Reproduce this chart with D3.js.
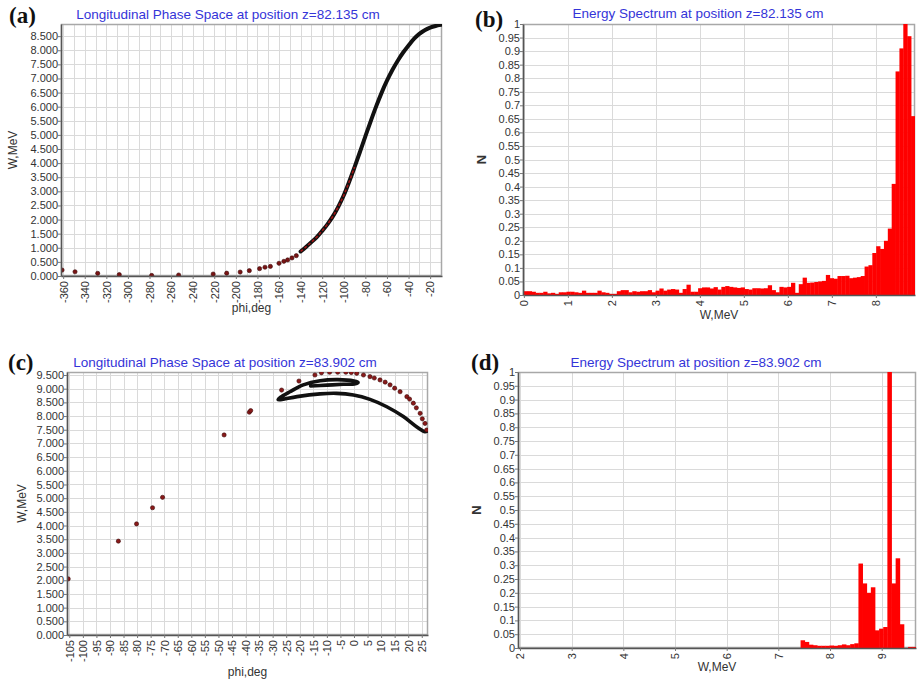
<!DOCTYPE html>
<html><head><meta charset="utf-8">
<script src="https://cdn.jsdelivr.net/npm/d3@7"></script>
<style>
body{margin:0;background:#fff}
svg{display:block}
</style>
</head><body>
<svg id="chart" width="917" height="681"></svg>
<script>
// ---------------- DATA ----------------
// (a) Longitudinal phase space, z = 82.135 cm
const aTitle = "Longitudinal Phase Space at position z=82.135 cm";
const aDotsPhi = [-361,-349,-328,-308,-278,-253,-221,-208.5,-196,-187.5,-178,-173,-168,-160,-155.5,-152,-148,-144];
const aDotsW   = [0.21,0.15,0.095,0.05,0.02,0.035,0.07,0.10,0.14,0.19,0.26,0.31,0.34,0.45,0.52,0.57,0.64,0.72];
const aCurvePhi = [-140,-135,-130,-125,-120,-115,-110,-105,-100,-95,-90,-85,-80,-75,-70,-65,-60,-55,-50,-45,-40,-35,-30,-25,-20,-15,-10];
const aCurveW   = [0.87,1.03,1.2,1.38,1.6,1.84,2.12,2.46,2.86,3.34,3.86,4.4,4.95,5.49,6.01,6.49,6.92,7.3,7.63,7.92,8.17,8.4,8.58,8.71,8.8,8.86,8.9];
const aXTicks = [-360,-340,-320,-300,-280,-260,-240,-220,-200,-180,-160,-140,-120,-100,-80,-60,-40,-20];
const aYTicks = [0,0.5,1,1.5,2,2.5,3,3.5,4,4.5,5,5.5,6,6.5,7,7.5,8,8.5];

// (b) Energy spectrum, z = 82.135 cm  (bins of 0.088 MeV starting at 0)
const bTitle = "Energy Spectrum at position z=82.135 cm";
const bBinStart = 0, bBinWidth = 0.088;
const bCounts = [
 0.014,0.014,0.012,0.008,0.008,0.012,0.006,0.008,0.004,0.010,
 0.010,0.012,0.012,0.010,0.008,0.016,0.008,0.008,0.008,0.016,
 0.010,0.008,0.004,0.004,0.014,0.018,0.018,0.010,0.014,0.012,
 0.014,0.014,0.018,0.010,0.016,0.024,0.016,0.020,0.022,0.020,
 0.008,0.022,0.038,0.012,0.012,0.025,0.028,0.028,0.024,0.029,
 0.020,0.030,0.033,0.030,0.028,0.026,0.028,0.022,0.020,0.025,
 0.025,0.024,0.025,0.036,0.018,0.010,0.030,0.028,0.030,0.045,
 0.008,0.040,0.064,0.045,0.046,0.048,0.050,0.052,0.074,0.062,
 0.060,0.070,0.070,0.071,0.062,0.064,0.066,0.070,0.105,0.110,
 0.155,0.180,0.170,0.200,0.245,0.410,0.825,0.910,1.000,0.955,0.660];
const bXTicks = [0,1,2,3,4,5,6,7,8];
const nYTicks = [0,0.05,0.1,0.15,0.2,0.25,0.3,0.35,0.4,0.45,0.5,0.55,0.6,0.65,0.7,0.75,0.8,0.85,0.9,0.95,1];

// (c) Longitudinal phase space, z = 83.902 cm
const cTitle = "Longitudinal Phase Space at position z=83.902 cm";
const cDotsPhi = [-105.4,-86.9,-80.2,-74.3,-70.6,-47.9,-38.6,-38.1,-26.7,-20.3,-14.4,-12,-9,-6,-3,-1,1,3.5,5.9,7.5,9.6,11.5,13.3,15,17,19.5,20.5,21.9,23,24.4,25.2,26.2,26.8];
const cDotsW   = [2.05,3.43,4.06,4.65,5.03,7.31,8.14,8.2,8.95,9.28,9.5,9.58,9.6,9.6,9.6,9.59,9.56,9.5,9.44,9.39,9.32,9.24,9.14,9.02,8.89,8.71,8.62,8.47,8.3,8.1,7.9,7.73,7.49];
const cLoopPhi = [-16,-10,-4,0.5,1.5,0,-6,-12.5,-18.7,-23.6,-27.2,-28,-27,-21,-12.5,-6.4,-0.2,5.9,12.1,18.2,23.2,26.2,27.2];
const cLoopW   = [9.1,9.13,9.16,9.18,9.23,9.28,9.33,9.29,9.14,8.89,8.68,8.6,8.6,8.71,8.81,8.83,8.77,8.61,8.34,7.98,7.6,7.43,7.46];
const cXTicks = [-105,-100,-95,-90,-85,-80,-75,-70,-65,-60,-55,-50,-45,-40,-35,-30,-25,-20,-15,-10,-5,0,5,10,15,20,25];
const cYTicks = [0,0.5,1,1.5,2,2.5,3,3.5,4,4.5,5,5.5,6,6.5,7,7.5,8,8.5,9,9.5];

// (d) Energy spectrum, z = 83.902 cm  (bins of 0.08 MeV starting at 7.43)
const dTitle = "Energy Spectrum at position z=83.902 cm";
const dBinStart = 7.43, dBinWidth = 0.08;
const dCounts = [0.028,0.022,0.012,0.010,0.008,0.008,0.008,0.009,0.008,0.010,0.013,0.010,0.014,0.017,
 0.306,0.234,0.200,0.220,0.064,0.070,0.076,1.000,0.234,0.325,0.086,0,0.004,0.004];
const dXTicks = [2,3,4,5,6,7,8,9];

// ---------------- DRAWING ----------------
const SANS = "Arial, 'Liberation Sans', sans-serif";
const SERIF = "'Liberation Serif', 'DejaVu Serif', serif";
const svg = d3.select("#chart");
const defs = svg.append("defs");
const fmt3 = d3.format(".3f");

function panel(o) {
  const x = d3.scaleLinear().domain(o.xDomain).range([o.l, o.r]);
  const y = d3.scaleLinear().domain(o.yDomain).range([o.b, o.t]);
  const g = svg.append("g");
  defs.append("clipPath").attr("id", "clip-" + o.name)
    .append("rect").attr("x", o.l).attr("y", o.t).attr("width", o.r - o.l).attr("height", o.b - o.t);
  const px = v => Math.round(v) + 0.5;
  g.append("g").selectAll("line").data(o.xGrid).join("line")
    .attr("x1", d => px(x(d))).attr("x2", d => px(x(d))).attr("y1", o.t).attr("y2", o.b)
    .attr("stroke", "#dadada").attr("stroke-width", 1);
  g.append("g").selectAll("line").data(o.yGrid).join("line")
    .attr("y1", d => px(y(d))).attr("y2", d => px(y(d))).attr("x1", o.l).attr("x2", o.r)
    .attr("stroke", "#dadada").attr("stroke-width", 1);
  g.append("rect").attr("x", o.l + 0.5).attr("y", o.t + 0.5).attr("width", o.r - o.l - 1).attr("height", o.b - o.t - 1)
    .attr("fill", "none").attr("stroke", "#a8a8a8").attr("stroke-width", 1.5);

  const plot = g.append("g").attr("clip-path", `url(#clip-${o.name})`);

  const xa = g.append("g").attr("transform", `translate(0,${o.b})`)
    .call(d3.axisBottom(x).tickValues(o.xTicks).tickFormat(o.xFmt).tickSize(3).tickSizeOuter(0));
  xa.attr("font-family", SANS);
  xa.select(".domain").attr("stroke", "#555").attr("stroke-width", 1.5);
  xa.selectAll(".tick line").attr("stroke", "#777");
  xa.selectAll(".tick text").attr("transform", "rotate(-90)").attr("text-anchor", "end")
    .attr("x", -5).attr("y", 0).attr("dy", "0.35em")
    .attr("font-size", 11).attr("fill", "#333");

  const ya = g.append("g").attr("transform", `translate(${o.l},0)`)
    .call(d3.axisLeft(y).tickValues(o.yTicks).tickFormat(o.yFmt).tickSize(3).tickSizeOuter(0));
  ya.attr("font-family", SANS);
  ya.select(".domain").attr("stroke", "#555").attr("stroke-width", 1.5);
  ya.selectAll(".tick line").attr("stroke", "#777");
  ya.selectAll(".tick text").attr("x", -3).attr("font-size", 11).attr("fill", "#333");

  // title
  g.append("text").attr("x", o.titleX).attr("y", o.titleY).attr("text-anchor", "middle")
    .attr("font-family", SANS).attr("font-size", 13.5).attr("fill", "#3434d8").text(o.title);
  // panel letter
  g.append("text").attr("x", o.letterX).attr("y", o.letterY)
    .attr("font-family", SERIF).attr("font-weight", "bold")
    .attr("font-size", 23).attr("fill", "#111").text(o.letter);
  // axis titles
  g.append("text").attr("x", (o.l + o.r) / 2).attr("y", o.xLabelY).attr("text-anchor", "middle")
    .attr("font-family", SANS).attr("font-size", 12).attr("fill", "#333").text(o.xLabel);
  g.append("text").attr("transform", `translate(${o.yLabelX},${(o.t + o.b) / 2}) rotate(-90)`)
    .attr("text-anchor", "middle").attr("font-family", SANS).attr("font-size", o.yLabelSize)
    .attr("font-weight", o.yLabelWeight).attr("fill", "#333").text(o.yLabel);
  return { x, y, plot };
}

const lineGen = (x, y) => d3.line().x(d => x(d[0])).y(d => y(d[1])).curve(d3.curveCatmullRom.alpha(0.5));

// ---- (a)
{
  const p = panel({
    name: "a", l: 61, r: 442, t: 24, b: 276, xDomain: [-362, -9], yDomain: [0, 8.93],
    xTicks: aXTicks, yTicks: aYTicks, xFmt: d => String(d), yFmt: fmt3,
    xGrid: d3.range(-360, -9, 10), yGrid: aYTicks,
    title: aTitle, titleX: 228, titleY: 19, letter: "(a)", letterX: 9, letterY: 23,
    xLabel: "phi,deg", xLabelY: 312, yLabel: "W,MeV", yLabelX: 17, yLabelSize: 12, yLabelWeight: "normal"
  });
  const pts = aCurvePhi.map((v, i) => [v, aCurveW[i]]);
  p.plot.append("path").datum(pts).attr("d", lineGen(p.x, p.y))
    .attr("fill", "none").attr("stroke", "#111").attr("stroke-width", 4).attr("stroke-linecap", "round");
  p.plot.append("path").datum(pts.filter(d => d[1] < 4)).attr("d", lineGen(p.x, p.y))
    .attr("fill", "none").attr("stroke", "#a31515").attr("stroke-width", 1.6).attr("stroke-dasharray", "3 2");
  p.plot.selectAll("circle.d").data(aDotsPhi.map((v, i) => [v, aDotsW[i]])).join("circle")
    .attr("cx", d => p.x(d[0])).attr("cy", d => p.y(d[1])).attr("r", 2.1)
    .attr("fill", "#7a1414").attr("stroke", "#3a0a0a").attr("stroke-width", 0.6);
}

// ---- (b)
{
  const p = panel({
    name: "b", l: 523, r: 915, t: 24, b: 295, xDomain: [-0.02, 8.89], yDomain: [0, 1],
    xTicks: bXTicks, yTicks: nYTicks, xFmt: d => String(d), yFmt: d => String(d),
    xGrid: bXTicks, yGrid: nYTicks,
    title: bTitle, titleX: 698, titleY: 18, letter: "(b)", letterX: 475, letterY: 27,
    xLabel: "W,MeV", xLabelY: 319, yLabel: "N", yLabelX: 486, yLabelSize: 13, yLabelWeight: "bold"
  });
  p.plot.selectAll("rect").data(bCounts).join("rect")
    .attr("x", (d, i) => p.x(bBinStart + i * bBinWidth))
    .attr("width", (d, i) => p.x(bBinStart + (i + 1) * bBinWidth) - p.x(bBinStart + i * bBinWidth) + 0.4)
    .attr("y", d => p.y(d)).attr("height", d => p.y(0) - p.y(d))
    .attr("fill", "#ff0000");
}

// ---- (c)
{
  const p = panel({
    name: "c", l: 67, r: 428, t: 372, b: 635, xDomain: [-105.85, 27.3], yDomain: [0, 9.61],
    xTicks: cXTicks, yTicks: cYTicks, xFmt: d => String(d), yFmt: fmt3,
    xGrid: cXTicks, yGrid: cYTicks,
    title: cTitle, titleX: 225, titleY: 367, letter: "(c)", letterX: 8, letterY: 370,
    xLabel: "phi,deg", xLabelY: 676, yLabel: "W,MeV", yLabelX: 26, yLabelSize: 12, yLabelWeight: "normal"
  });
  const loop = cLoopPhi.map((v, i) => [v, cLoopW[i]]);
  p.plot.append("path").datum(loop).attr("d", lineGen(p.x, p.y))
    .attr("fill", "none").attr("stroke", "#111").attr("stroke-width", 3.6)
    .attr("stroke-linecap", "round").attr("stroke-linejoin", "round");
  p.plot.selectAll("circle.d").data(cDotsPhi.map((v, i) => [v, cDotsW[i]])).join("circle")
    .attr("cx", d => p.x(d[0])).attr("cy", d => p.y(d[1])).attr("r", 2.1)
    .attr("fill", "#8a1a1a").attr("stroke", "#3a0a0a").attr("stroke-width", 0.6);
}

// ---- (d)
{
  const p = panel({
    name: "d", l: 518, r: 916, t: 372, b: 648, xDomain: [1.961, 9.664], yDomain: [0, 1],
    xTicks: dXTicks, yTicks: nYTicks, xFmt: d => String(d), yFmt: d => String(d),
    xGrid: dXTicks, yGrid: nYTicks,
    title: dTitle, titleX: 696, titleY: 367, letter: "(d)", letterX: 471, letterY: 370,
    xLabel: "W,MeV", xLabelY: 671, yLabel: "N", yLabelX: 481, yLabelSize: 13, yLabelWeight: "bold"
  });
  p.plot.selectAll("rect").data(dCounts).join("rect")
    .attr("x", (d, i) => p.x(dBinStart + i * dBinWidth))
    .attr("width", (d, i) => p.x(dBinStart + (i + 1) * dBinWidth) - p.x(dBinStart + i * dBinWidth) + 0.4)
    .attr("y", d => p.y(d)).attr("height", d => p.y(0) - p.y(d))
    .attr("fill", "#ff0000");
}
</script>
</body></html>
